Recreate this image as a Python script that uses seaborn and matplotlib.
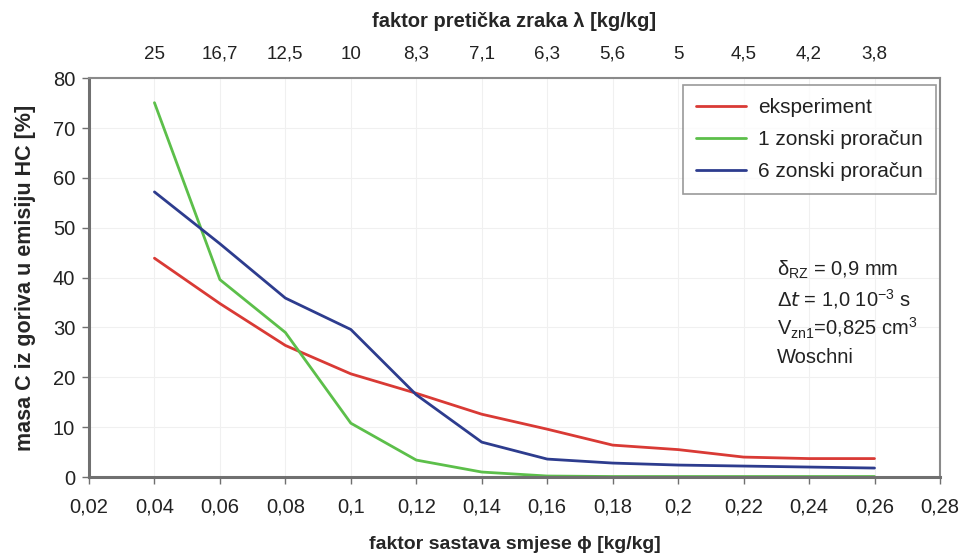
import numpy as np
import pandas as pd
import matplotlib
matplotlib.use('Agg')
import matplotlib.pyplot as plt
import seaborn as sns

# faktor sastava smjese phi [kg/kg]
phi = [0.04, 0.06, 0.08, 0.10, 0.12, 0.14, 0.16, 0.18, 0.20, 0.22, 0.24, 0.26]
eksperiment = [43.9, 34.8, 26.4, 20.7, 16.8, 12.6, 9.6, 6.4, 5.5, 4.0, 3.7, 3.7]
zonski_1 = [75.1, 39.6, 29.0, 10.8, 3.4, 1.0, 0.2, 0.1, 0.1, 0.1, 0.1, 0.1]
zonski_6 = [57.2, 46.8, 35.9, 29.6, 16.5, 7.0, 3.6, 2.8, 2.4, 2.2, 2.0, 1.8]
lambda_labels = ['25', '16,7', '12,5', '10', '8,3', '7,1', '6,3', '5,6', '5', '4,5', '4,2', '3,8']
serije = ['eksperiment', '1 zonski proračun', '6 zonski proračun']
boje = ['#d93a35', '#5cbf4a', '#2d3c8e']

df = pd.DataFrame({
    'phi': phi * 3,
    'masa': eksperiment + zonski_1 + zonski_6,
    'serija': [serije[0]] * len(phi) + [serije[1]] * len(phi) + [serije[2]] * len(phi),
})

sns.set_style('white')
plt.rcParams['font.family'] = ['Liberation Sans', 'DejaVu Sans']
plt.rcParams['mathtext.default'] = 'regular'
plt.rcParams['text.color'] = '#222222'
plt.rcParams['xtick.color'] = '#222222'
plt.rcParams['ytick.color'] = '#222222'

fig = plt.figure(figsize=(9.63, 5.55), dpi=100)
ax = fig.add_axes([0.0924, 0.1405, 0.8837, 0.7185])

sns.lineplot(data=df, x='phi', y='masa', hue='serija', hue_order=serije,
             palette=boje, linewidth=2, ax=ax)

ax.set_xlim(0.02, 0.28)
ax.set_ylim(0, 80)
xt = np.round(np.arange(0.02, 0.2801, 0.02), 2)
ax.set_xticks(xt)
ax.set_xticklabels([('%g' % v).replace('.', ',') for v in xt], fontsize=14.5)
ax.set_yticks(range(0, 81, 10))
ax.set_yticklabels([str(v) for v in range(0, 81, 10)], fontsize=14.5)
ax.tick_params(axis='x', direction='out', length=5, width=1, color='#707070', bottom=True, pad=10)
ax.tick_params(axis='y', direction='out', length=5, width=1, color='#707070', left=True, pad=5)
ax.grid(True, color='#f0f0f0', linewidth=0.8)
for s in ax.spines.values():
    s.set_color('#8a8a8a')
    s.set_linewidth(1.5)
ax.spines['left'].set_color('#707070')
ax.spines['bottom'].set_color('#707070')
ax.spines['left'].set_linewidth(2.2)
ax.spines['bottom'].set_linewidth(2.2)

ax.set_xlabel('faktor sastava smjese ϕ [kg/kg]', fontsize=14, fontweight='bold', labelpad=14)
ax.set_ylabel('masa C iz goriva u emisiju HC [%]', fontsize=15.5, fontweight='bold', labelpad=12)

# gornja os: faktor pretička zraka lambda
top = ax.twiny()
top.set_xlim(ax.get_xlim())
top.set_xticks(phi)
top.set_xticklabels(lambda_labels, fontsize=13.5)
top.tick_params(axis='x', length=0, pad=11)
for s in top.spines.values():
    s.set_visible(False)
top.set_xlabel('faktor pretička zraka λ [kg/kg]', fontsize=14.5, fontweight='bold', labelpad=14)

leg = ax.legend(loc='upper right', bbox_to_anchor=(0.995, 0.982), borderaxespad=0,
                fontsize=15, frameon=True, fancybox=False, edgecolor='#808080',
                handlelength=2.4, handletextpad=0.6, borderpad=0.62, labelspacing=0.62)
leg.get_frame().set_linewidth(1.2)

note = ['δ$_{RZ}$ = 0,9 mm', 'Δ$\\mathit{t}$ = 1,0 10$^{-3}$ s',
        'V$_{zn1}$=0,825 cm$^{3}$', 'Woschni']
for i, t in enumerate(note):
    ax.text(0.2303, 41.6 - i * 5.9, t, fontsize=14.5, va='center', ha='left')

fig.savefig('out.png', dpi=100)
